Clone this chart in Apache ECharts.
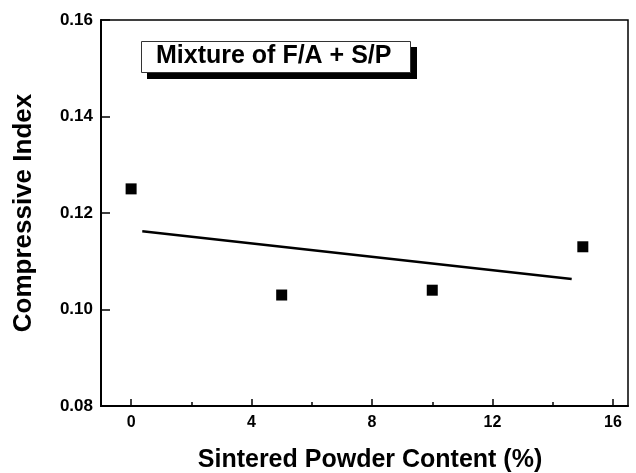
<!DOCTYPE html>
<html>
<head>
<meta charset="utf-8">
<script src="https://cdn.jsdelivr.net/npm/echarts@6/dist/echarts.min.js"></script>
<style>html,body{margin:0;padding:0;background:#fff}#c{width:636px;height:473px}</style>
</head>
<body>
<div id="c"></div>
<script>
var xValues = [0, 5, 10, 15];
var yValues = [0.125, 0.103, 0.104, 0.113];
var fitX = [0.37, 14.63];
var fitY = [0.1162, 0.1063];
var xMajorTicks = [0, 4, 8, 12, 16];
var xMinorTicks = [2, 6, 10, 14];
var yTicks = [0.08, 0.10, 0.12, 0.14, 0.16];
var xTitle = 'Sintered Powder Content (%)';
var yTitle = 'Compressive Index';
var boxLabel = 'Mixture of F/A + S/P';

var font = '"Liberation Sans", Arial, sans-serif';
var chart = echarts.init(document.getElementById('c'));
var pts = xValues.map(function (x, i) { return [x, yValues[i]]; });
var fit = fitX.map(function (x, i) { return [x, fitY[i]]; });

chart.setOption({
  animation: false,
  backgroundColor: '#fff',
  grid: { left: 101, top: 20, right: 8, bottom: 67, show: true, borderColor: '#000', borderWidth: 1.5, containLabel: false, outerBoundsMode: 'none' },
  xAxis: [{
    type: 'value', min: -1, max: 16.5,
    name: xTitle, nameLocation: 'middle', nameGap: 42,
    nameTextStyle: { fontFamily: font, fontWeight: 'bold', fontSize: 25, color: '#000', padding: [0, 0, 0, 11] },
    axisLine: { show: true, onZero: false, lineStyle: { color: '#000', width: 2 } },
    axisTick: { show: true, inside: true, length: 7, lineStyle: { color: '#000', width: 1.5 }, customValues: xMajorTicks },
    axisLabel: { show: true, margin: 9, fontFamily: font, fontWeight: 'bold', fontSize: 16, color: '#000', customValues: xMajorTicks },
    splitLine: { show: false }
  }, {
    type: 'value', min: -1, max: 16.5, position: 'bottom',
    axisLine: { show: false, onZero: false },
    axisTick: { show: true, inside: true, length: 4, lineStyle: { color: '#000', width: 1.5 }, customValues: xMinorTicks },
    axisLabel: { show: false },
    splitLine: { show: false }
  }],
  yAxis: {
    type: 'value', min: 0.08, max: 0.16, interval: 0.02,
    name: yTitle, nameLocation: 'middle', nameGap: 64,
    nameTextStyle: { fontFamily: font, fontWeight: 'bold', fontSize: 26, color: '#000' },
    axisLine: { show: true, onZero: false, lineStyle: { color: '#000', width: 2 } },
    axisTick: { show: true, inside: true, length: 9, lineStyle: { color: '#000', width: 1.5 } },
    axisLabel: { margin: 8, fontFamily: font, fontWeight: 'bold', fontSize: 17, color: '#000',
      formatter: function (v) { return v.toFixed(2); } },
    splitLine: { show: false }
  },
  series: [{
    type: 'scatter', data: pts, symbol: 'rect', symbolSize: 11,
    itemStyle: { color: '#000', opacity: 1 }, z: 3
  }, {
    type: 'line', data: fit, symbol: 'none', showSymbol: false,
    lineStyle: { color: '#000', width: 2.5 }, z: 2
  }],
  graphic: [{
    type: 'rect', shape: { x: 147, y: 47, width: 270, height: 32 },
    style: { fill: '#000' }, z: 10
  }, {
    type: 'rect', shape: { x: 141.5, y: 41.5, width: 269, height: 31 },
    style: { fill: '#fff', stroke: '#333', lineWidth: 1 }, z: 11
  }, {
    type: 'text', left: 156, top: 44, z: 12,
    style: { text: boxLabel, fontFamily: font, fontWeight: 'bold', fontSize: 25, fill: '#000' }
  }]
});
</script>
</body>
</html>
